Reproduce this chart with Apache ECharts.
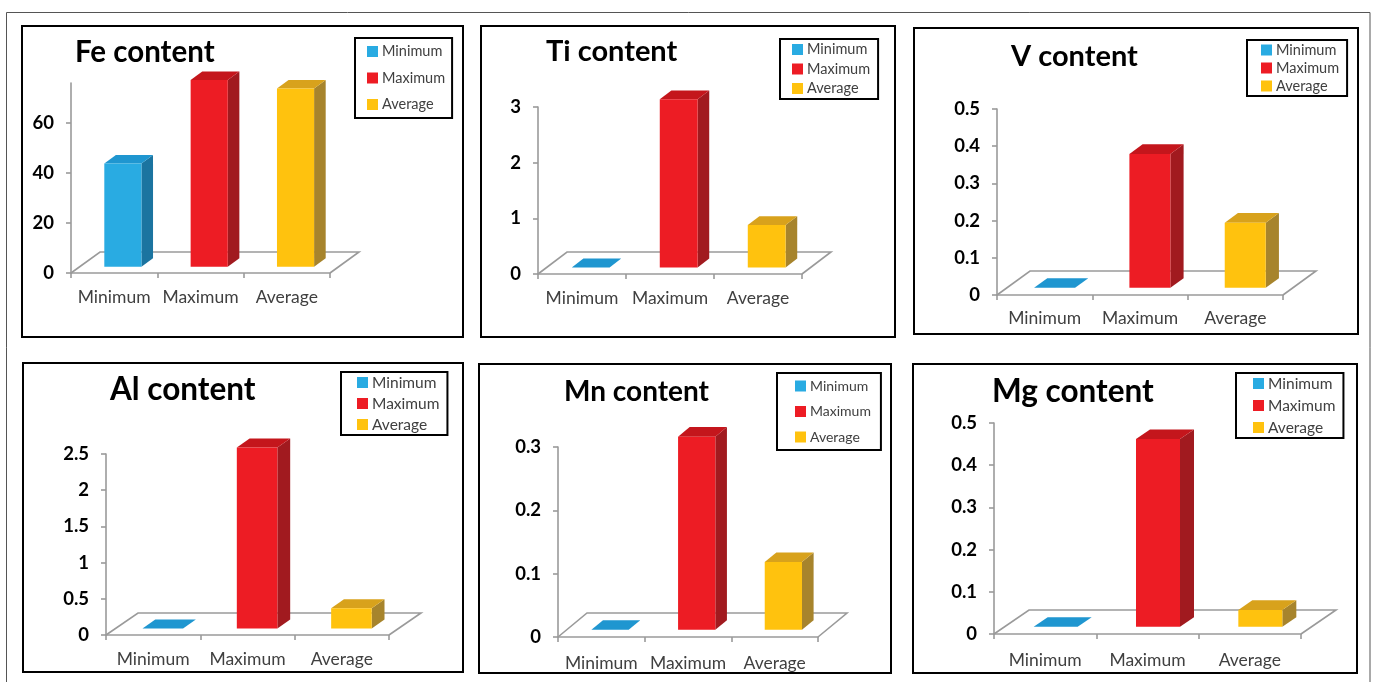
<!DOCTYPE html>
<html>
<head>
<meta charset="utf-8">
<script src="https://cdn.jsdelivr.net/npm/echarts@6/dist/echarts.min.js"></script>
<style>
html, body { margin: 0; padding: 0; background: #fff; }
#chart { width: 1373px; height: 682px; }
</style>
</head>
<body>
<div id="chart"></div>
<script>
// Category names and series names (one bar per category)
const categories = ['Minimum', 'Maximum', 'Average'];

// Content values per element: [Minimum, Maximum, Average]
const feValues = [41.3, 74.7, 71.3];
const tiValues = [0, 3.02, 0.76];
const vValues  = [0, 0.36, 0.175];
const alValues = [0, 2.5, 0.28];
const mnValues = [0, 0.305, 0.107];
const mgValues = [0, 0.445, 0.04];

// Value-axis tick labels
const feTicks = [0, 20, 40, 60];
const tiTicks = [0, 1, 2, 3];
const vTicks  = [0, 0.1, 0.2, 0.3, 0.4, 0.5];
const alTicks = [0, 0.5, 1, 1.5, 2, 2.5];
const mnTicks = [0, 0.1, 0.2, 0.3];
const mgTicks = [0, 0.1, 0.2, 0.3, 0.4, 0.5];

// Face colours for the pseudo-3D columns
const palette = {
  Minimum: { front: '#29ABE2', top: '#1F96D0', side: '#1B74A0' },
  Maximum: { front: '#ED1C24', top: '#C4161C', side: '#A11A1F' },
  Average: { front: '#FFC20E', top: '#D8A21C', side: '#A7842C' }
};

// Panel layout: frame box, plot grid, title, legend, floor depth vector
const panels = [
  { name: 'Fe', values: feValues, ticks: feTicks, max: 76,
    box: [22, 26, 463, 337], grid: [71, 83, 259, 190], title: [75, 52, 29.5],
    legend: { x: 355, y: 38, gap: 11.5, pad: [6, 7, 6, 12], font: 14.5 },
    depth: [29, -21], xMargin: 15 },
  { name: 'Ti', values: tiValues, ticks: tiTicks, max: 3,
    box: [481, 26, 895, 337], grid: [538, 107, 264, 167], title: [546, 52, 29],
    legend: { x: 780, y: 39, gap: 4.5, pad: [3, 8, 3, 12], font: 14.5 },
    depth: [29, -22], xMargin: 15 },
  { name: 'V', values: vValues, ticks: vTicks, max: 0.5,
    box: [914, 28, 1358, 334], grid: [997, 109, 286, 186], title: [1011, 57, 29],
    legend: { x: 1247, y: 40, gap: 3, pad: [2.5, 8, 2.5, 14], font: 14.5 },
    depth: [33, -24], xMargin: 14 },
  { name: 'Al', values: alValues, ticks: alTicks, max: 2.5,
    box: [23, 363, 463, 672], grid: [106, 454, 283, 181], title: [110, 390, 31.5],
    legend: { x: 341, y: 372, gap: 5, pad: [2.5, 8, 2.5, 16], font: 15.5 },
    depth: [32, -22], xMargin: 15 },
  { name: 'Mn', values: mnValues, ticks: mnTicks, max: 0.3,
    box: [479, 364, 891, 673], grid: [558, 447, 260, 190], title: [564, 392, 28],
    legend: { x: 777, y: 373, gap: 11.5, pad: [6, 10, 6, 18], font: 14 },
    depth: [29, -24], xMargin: 17 },
  { name: 'Mg', values: mgValues, ticks: mgTicks, max: 0.5,
    box: [913, 364, 1357, 673], grid: [994, 423, 307, 211], title: [992, 392, 31.5],
    legend: { x: 1236, y: 373, gap: 6, pad: [2.5, 8, 2.5, 17], font: 15.5 },
    depth: [35, -24], xMargin: 17 }
];

const FONT = 'Lato, "Open Sans", sans-serif';
const BAR_WIDTH = 0.43;   // fraction of category band
const DEPTH_FRONT = 0.3;  // bar front plane as fraction of floor depth
const DEPTH_BACK = 0.7;   // bar back plane

function floorRenderer(depth) {
  return function (params, api) {
    const cs = params.coordSys;
    const y0 = api.coord([0, 0])[1];
    const l = cs.x, r = cs.x + cs.width;
    return {
      type: 'polyline',
      shape: { points: [[l, y0], [l + depth[0], y0 + depth[1]], [r + depth[0], y0 + depth[1]], [r, y0]] },
      style: { stroke: '#9a9a9a', lineWidth: 1.6, fill: null }
    };
  };
}

function barRenderer(depth, colors) {
  return function (params, api) {
    const cat = api.value(0), v = api.value(1);
    const base = api.coord([cat, 0]);
    const top = api.coord([cat, v]);
    const band = api.size([1, 0])[0];
    const half = band * BAR_WIDTH / 2;
    const x0 = base[0] - half + depth[0] * DEPTH_FRONT;
    const x1 = base[0] + half + depth[0] * DEPTH_FRONT;
    const yb = base[1] + depth[1] * DEPTH_FRONT;
    const yt = top[1] + depth[1] * DEPTH_FRONT;
    const ddx = depth[0] * (DEPTH_BACK - DEPTH_FRONT);
    const ddy = depth[1] * (DEPTH_BACK - DEPTH_FRONT);
    return {
      type: 'group',
      children: [
        { type: 'polygon',
          shape: { points: [[x1, yb], [x1, yt], [x1 + ddx, yt + ddy], [x1 + ddx, yb + ddy]] },
          style: { fill: colors.side } },
        { type: 'polygon',
          shape: { points: [[x0, yt], [x1, yt], [x1 + ddx, yt + ddy], [x0 + ddx, yt + ddy]] },
          style: { fill: colors.top } },
        { type: 'rect',
          shape: { x: x0, y: yt, width: x1 - x0, height: yb - yt },
          style: { fill: colors.front } }
      ]
    };
  };
}

const grid = [], xAxis = [], yAxis = [], series = [], title = [], legend = [], graphic = [];

graphic.push({
  type: 'rect', silent: true, z: 0,
  shape: { x: 6.5, y: 12.5, width: 1363.5, height: 700 },
  style: { fill: 'none', stroke: '#555', lineWidth: 1 }
});

panels.forEach((p, i) => {
  graphic.push({
    type: 'rect', silent: true, z: 0,
    shape: { x: p.box[0], y: p.box[1], width: p.box[2] - p.box[0], height: p.box[3] - p.box[1] },
    style: { fill: 'none', stroke: '#000', lineWidth: 2 }
  });

  grid.push({ left: p.grid[0], top: p.grid[1], width: p.grid[2], height: p.grid[3] });

  xAxis.push({
    type: 'category', gridIndex: i, data: categories,
    axisLine: { lineStyle: { color: '#9a9a9a', width: 1.6 } },
    axisTick: { show: true, alignWithLabel: false, length: 5, lineStyle: { color: '#9a9a9a', width: 1.6 } },
    axisLabel: { interval: 0, hideOverlap: false, margin: p.xMargin, color: '#404040', fontFamily: FONT, fontSize: 17.5 },
    splitLine: { show: false }
  });

  yAxis.push({
    type: 'value', gridIndex: i, min: 0, max: p.max,
    axisLine: { show: true, lineStyle: { color: '#9a9a9a', width: 1.6 } },
    axisTick: { show: true, length: 5, customValues: p.ticks, lineStyle: { color: '#9a9a9a', width: 1.6 } },
    axisLabel: { margin: 17, customValues: p.ticks, color: '#000', fontFamily: FONT, fontWeight: 'bold', fontSize: 18.5 },
    splitLine: { show: false }
  });

  title.push({
    text: p.name + ' content', left: p.title[0], top: p.title[1] - 18, padding: 0,
    textStyle: { fontFamily: FONT, fontWeight: 'bold', fontSize: p.title[2], color: '#000', lineHeight: 36 }
  });

  legend.push({
    orient: 'vertical', left: p.legend.x, top: p.legend.y,
    padding: p.legend.pad, itemGap: p.legend.gap,
    itemWidth: 11, itemHeight: 11, icon: 'rect',
    borderColor: '#000', borderWidth: 2,
    selectedMode: false,
    data: categories.map(c => ({ name: c, itemStyle: { color: palette[c].front } })),
    textStyle: { fontFamily: FONT, fontSize: p.legend.font, color: '#404040', lineHeight: 14, padding: [0, 0, 0, -1] }
  });

  series.push({
    type: 'custom', name: p.name + ' floor', xAxisIndex: i, yAxisIndex: i, z: 1,
    silent: true, data: [[0, 0]], renderItem: floorRenderer(p.depth)
  });

  categories.forEach((c, k) => {
    series.push({
      type: 'custom', name: c, xAxisIndex: i, yAxisIndex: i, z: 2,
      itemStyle: { color: palette[c].front },
      data: [[k, p.values[k]]],
      renderItem: barRenderer(p.depth, palette[c])
    });
  });
});

const chart = echarts.init(document.getElementById('chart'), null, { renderer: 'canvas' });
chart.setOption({
  backgroundColor: '#fff',
  animation: false,
  title, legend, grid, xAxis, yAxis, series, graphic
});
</script>
</body>
</html>
